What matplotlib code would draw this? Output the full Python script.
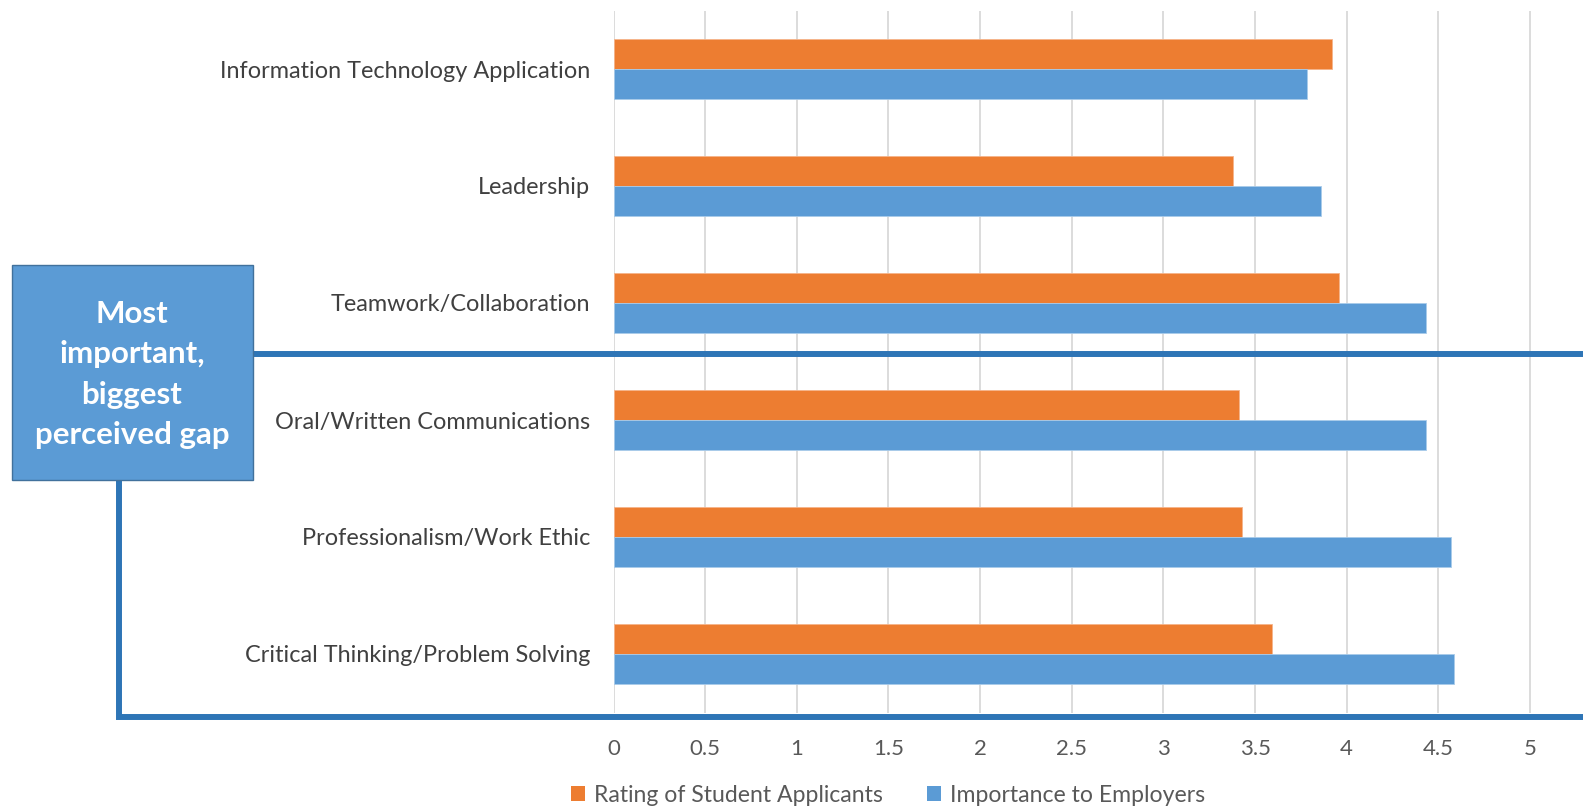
import matplotlib.pyplot as plt
from matplotlib.patches import Rectangle, Patch
from matplotlib.lines import Line2D
import numpy as np

# Data (bottom to top as drawn)
categories = ['Critical Thinking/Problem Solving', 'Professionalism/Work Ethic',
              'Oral/Written Communications', 'Teamwork/Collaboration',
              'Leadership', 'Information Technology Application']
rating_students = [3.59, 3.43, 3.41, 3.96, 3.38, 3.92]
importance_employers = [4.585, 4.57, 4.43, 4.43, 3.86, 3.785]
x_ticks = [0, 0.5, 1, 1.5, 2, 2.5, 3, 3.5, 4, 4.5, 5]
x_tick_labels = ['0', '0.5', '1', '1.5', '2', '2.5', '3', '3.5', '4', '4.5', '5']

ORANGE = '#ed7d31'
BLUE = '#5b9bd5'
LINE_BLUE = '#2e75b6'
W, H = 1583, 807

plt.rcParams['font.family'] = ['Lato', 'DejaVu Sans']


def px(x, y):
    # pixel position -> figure fraction
    return x / W, 1 - y / H


def create_chart():
    fig = plt.figure(figsize=(W / 100, H / 100), dpi=100)
    left, top = px(613.5, 10.5)
    right, bottom = px(1583, 712.5)
    ax = fig.add_axes([left, bottom, right - left, top - bottom])

    y = np.arange(len(categories))
    h = 0.256
    ax.barh(y + h / 2, rating_students, height=h, color=ORANGE,
            edgecolor='#f6b48a', linewidth=0.6, zorder=3)
    ax.barh(y - h / 2, importance_employers, height=h, color=BLUE,
            edgecolor='#a9cbea', linewidth=0.6, zorder=3)

    ax.set_xlim(0, (1583 - 613.5) / 183.3)
    ax.set_ylim(-0.5, len(categories) - 0.5)
    ax.set_xticks(x_ticks)
    ax.set_xticklabels(x_tick_labels)
    ax.set_yticks(y)
    ax.set_yticklabels(categories)
    ax.tick_params(axis='x', length=0, colors='#595959', labelsize=16, pad=19)
    ax.tick_params(axis='y', length=0, colors='#404040', labelsize=16.9, pad=17)
    ax.grid(axis='x', color='#d9d9d9', linewidth=1.3, zorder=0)
    for s in ax.spines.values():
        s.set_visible(False)

    # Callout box and bracket lines
    x0, y0 = px(11.7, 480)
    x1, y1 = px(252.7, 265)
    fig.patches.append(Rectangle((x0, y0), x1 - x0, y1 - y0,
                                 transform=fig.transFigure, facecolor=BLUE,
                                 edgecolor='#41719c', linewidth=1, zorder=5))
    cx, cy = px(132, 374.5)
    fig.text(cx, cy, 'Most\nimportant,\nbiggest\nperceived gap', color='white',
             fontsize=22.5, fontweight='bold', ha='center', va='center',
             linespacing=1.54, zorder=6)

    lw = 4.3
    for xs, ys in [([252.7, 1583], [354, 354]),
                   ([119, 119, 1583], [480, 717, 717])]:
        pts = [px(a, b) for a, b in zip(xs, ys)]
        fig.add_artist(Line2D([p[0] for p in pts], [p[1] for p in pts],
                              transform=fig.transFigure, color=LINE_BLUE,
                              linewidth=lw, solid_joinstyle='miter', zorder=4))

    # Legend
    handles = [Patch(facecolor=ORANGE), Patch(facecolor=BLUE)]
    lx, ly = px(888, 795)
    fig.legend(handles, ['Rating of Student Applicants', 'Importance to Employers'],
               loc='center', bbox_to_anchor=(lx, ly), ncol=2, frameon=False,
               fontsize=16.6, labelcolor='#595959', handlelength=0.6,
               handleheight=0.6, handletextpad=0.4, columnspacing=1.9)
    return fig


def main():
    fig = create_chart()
    fig.savefig('out.png', dpi=100, facecolor='white')
    plt.close(fig)


if __name__ == '__main__':
    main()
